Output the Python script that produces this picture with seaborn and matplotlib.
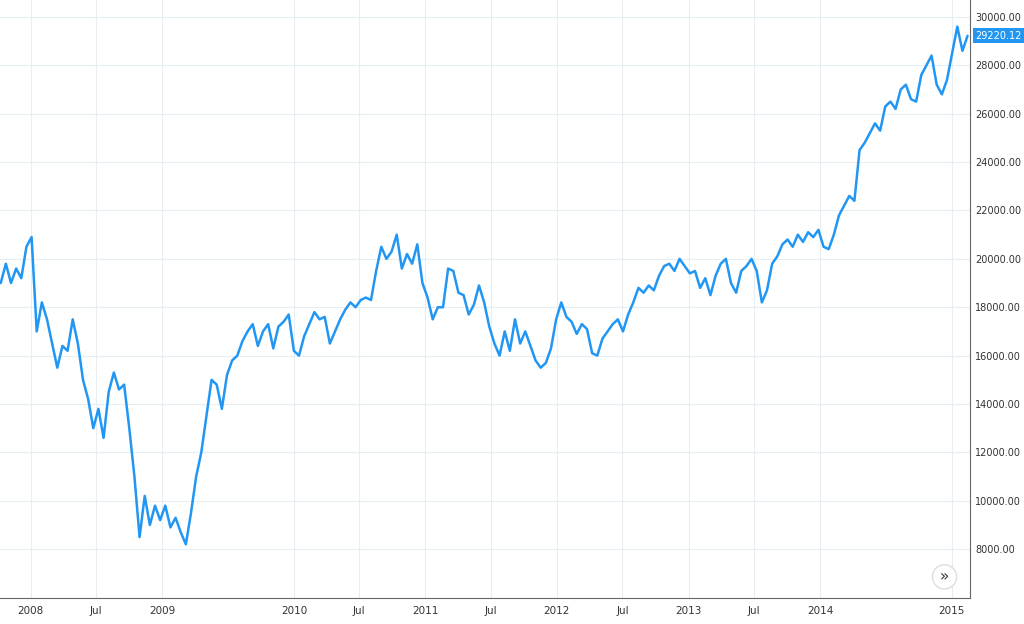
import pandas as pd
import matplotlib
matplotlib.use('Agg')
import matplotlib.pyplot as plt
import seaborn as sns

# roughly two-weekly closes
closes = [19000, 19800, 19000, 19600, 19200, 20500, 20900, 17000, 18200, 17500,
          16500, 15500, 16400, 16200, 17500, 16500, 15000, 14200, 13000, 13800,
          12600, 14500, 15300, 14600, 14800, 13000, 11000, 8500, 10200, 9000,
          9800, 9200, 9800, 8900, 9300, 8700, 8200, 9500, 11000, 12000,
          13500, 15000, 14800, 13800, 15200, 15800, 16000, 16600, 17000, 17300,
          16400, 17000, 17300, 16300, 17200, 17400, 17700, 16200, 16000, 16800,
          17300, 17800, 17500, 17600, 16500, 17000, 17500, 17900, 18200, 18000,
          18300, 18400, 18300, 19500, 20500, 20000, 20300, 21000, 19600, 20200,
          19800, 20600, 19000, 18400, 17500, 18000, 18000, 19600, 19500, 18600,
          18500, 17700, 18100, 18900, 18200, 17200, 16500, 16000, 17000, 16200,
          17500, 16500, 17000, 16400, 15800, 15500, 15700, 16300, 17500, 18200,
          17600, 17400, 16900, 17300, 17100, 16100, 16000, 16700, 17000, 17300,
          17500, 17000, 17700, 18200, 18800, 18600, 18900, 18700, 19300, 19700,
          19800, 19500, 20000, 19700, 19400, 19500, 18800, 19200, 18500, 19300,
          19800, 20000, 19000, 18600, 19500, 19700, 20000, 19500, 18200, 18700,
          19800, 20100, 20600, 20800, 20500, 21000, 20700, 21100, 20900, 21200,
          20500, 20400, 21000, 21800, 22200, 22600, 22400, 24500, 24800, 25200,
          25600, 25300, 26300, 26500, 26200, 27000, 27200, 26600, 26500, 27600,
          28000, 28400, 27200, 26800, 27400, 28500, 29600, 28600, 29220.12]
last_label = '29220.12'
y_ticks = list(range(8000, 30001, 2000))

dates = pd.date_range('2007-10-10', '2015-02-14', periods=len(closes))
df = pd.DataFrame({'date': dates, 'close': closes})

sns.set_style('white')
fig = plt.figure(figsize=(10.24, 6.24), dpi=100)
ax = fig.add_axes([0.0, 0.042, 0.947, 0.958])
sns.lineplot(data=df, x='date', y='close', color='#2196F3', linewidth=1.8, ax=ax)

ax.set_xlim(pd.Timestamp('2007-10-08'), pd.Timestamp('2015-02-20'))
ax.set_ylim(5990, 30700)
ax.yaxis.tick_right()
ax.set_yticks(y_ticks)
ax.set_yticklabels([f'{v:.2f}' for v in y_ticks], fontsize=7, color='#333333')
xt = ['2008-01-01', '2008-07-01', '2009-01-01', '2010-01-01', '2010-07-01', '2011-01-01',
      '2011-07-01', '2012-01-01', '2012-07-01', '2013-01-01', '2013-07-01', '2014-01-01', '2015-01-01']
xl = ['2008', 'Jul', '2009', '2010', 'Jul', '2011', 'Jul', '2012', 'Jul', '2013', 'Jul', '2014', '2015']
ax.set_xticks([pd.Timestamp(d) for d in xt])
ax.set_xticklabels(xl, fontsize=7.5, color='#333333')
ax.tick_params(axis='x', length=0, pad=6)
ax.tick_params(axis='y', length=0, pad=4)
ax.grid(True, color='#e6eef3', linewidth=0.8)
ax.set_xlabel('')
ax.set_ylabel('')
for s in ['top', 'left']:
    ax.spines[s].set_visible(False)
for s in ['right', 'bottom']:
    ax.spines[s].set_color('#666666')
    ax.spines[s].set_linewidth(0.8)

ax.annotate(last_label, xy=(1.0, closes[-1]), xycoords=('axes fraction', 'data'),
            xytext=(4, 0), textcoords='offset points', va='center', ha='left',
            fontsize=7, color='white', annotation_clip=False,
            bbox=dict(boxstyle='square,pad=0.25', fc='#2196F3', ec='none'))
ax.text(0.974, 0.035, '»', transform=ax.transAxes, ha='center', va='center', fontsize=11,
        color='#333333', bbox=dict(boxstyle='circle,pad=0.3', fc='white', ec='#dddddd'))

fig.savefig('out.png', dpi=100)
